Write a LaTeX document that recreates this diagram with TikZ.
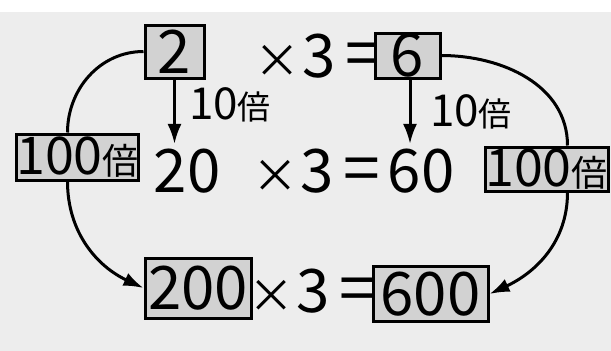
\documentclass[tikz,border=0pt]{standalone}
\usepackage{fontspec}
\setmainfont{Noto Sans CJK JP}
\usetikzlibrary{arrows.meta}
\newcommand\numfs{\fontsize{60}{60}\selectfont}
\newcommand\timesfs{\fontsize{46}{46}\selectfont}
\newcommand\labfs{\fontsize{44}{44}\selectfont}
\newcommand\baifs{\fontsize{33}{33}\selectfont}
\newcommand\boxfs{\fontsize{52}{52}\selectfont}
\newcommand\boxbaifs{\fontsize{36}{36}\selectfont}
\newcommand\timesthree{{\timesfs ×}\kern2pt 3\kern10pt{\fontsize{66}{66}\selectfont =}}

\begin{document}
\begin{tikzpicture}[x=1pt, y=1pt, >={Latex[length=20pt,width=14pt]}, line width=3pt,
  numbox/.style={draw, fill=gray!35, inner sep=0pt, font=\numfs},
  baibox/.style={draw, fill=gray!35, inner sep=0pt, minimum width=121pt,
                 minimum height=46pt, font=\boxfs},
  numtext/.style={font=\numfs}]
  \useasboundingbox (0,0) rectangle (611,-351);
  \fill[gray!14] (0,-12) rectangle (611,-351);
  %% top row
  \node[numbox, minimum width=59pt, minimum height=53pt] (two) at (174.5,-51.5) {2};
  \node[numtext] (toptimes) at (318,-56) {\timesthree};
  \node[numbox, minimum width=65pt, minimum height=45pt] (six) at (407.5,-55.5) {6};
  %% 10 times labels
  \node[font=\labfs] (tenleft) at (230,-105) {10{\baifs 倍}};
  \node[font=\labfs] (tenright) at (471,-112) {10{\baifs 倍}};
  %% middle row
  \node[numtext] (twenty) at (187,-171) {20};
  \node[numtext] (midtimes) at (316,-171) {\timesthree};
  \node[numtext] (sixty) at (421,-171) {60};
  %% 100 times boxes
  \node[baibox] (leftbai) at (77.5,-157) {100{\boxbaifs 倍}};
  \node[baibox, minimum width=123pt, minimum height=44pt] (rightbai) at (546.5,-169) {100{\boxbaifs 倍}};
  %% bottom row
  \node[numbox, minimum width=106pt, minimum height=60pt] (twohundred) at (198,-288) {200};
  \node[numtext] (bottimes) at (312,-291) {\timesthree};
  \node[numbox, minimum width=115pt, minimum height=55pt] (sixhundred) at (430.5,-294) {600};
  %% straight arrows
  \draw[->] (two.south) -- (two.south |- twenty.north);
  \draw[->] ([xshift=2.5pt]six.south) -- ([xshift=2.5pt]six.south |- sixty.north);
  %% curved arrows
  \draw (two.west) to[out=180, in=90] ([xshift=-10pt]leftbai.north);
  \draw[->] ([xshift=-10pt]leftbai.south) to[out=-90, in=155] (twohundred.west);
  \draw (six.east) to[out=0, in=90] ([xshift=21pt]rightbai.north);
  \draw[->] ([xshift=21pt]rightbai.south) to[out=-90, in=25] (sixhundred.east);
\end{tikzpicture}
\end{document}
